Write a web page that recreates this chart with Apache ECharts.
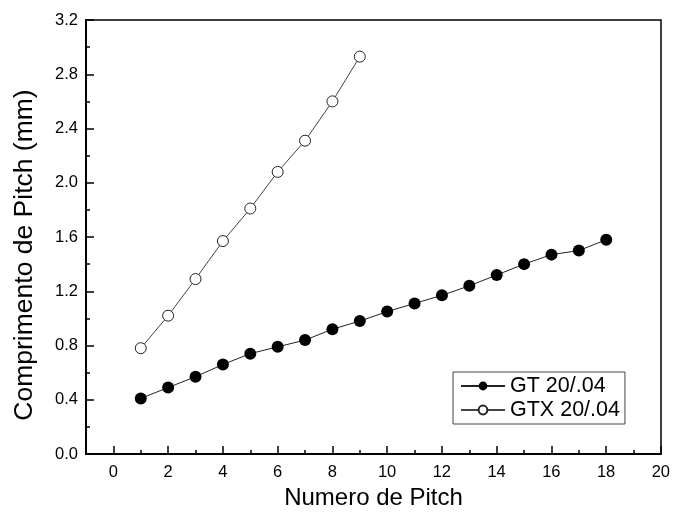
<!DOCTYPE html>
<html>
<head>
<meta charset="utf-8">
<script src="https://cdn.jsdelivr.net/npm/echarts@6/dist/echarts.min.js"></script>
<style>html,body{margin:0;padding:0;background:#fff}#c{width:673px;height:528px}</style>
</head>
<body>
<div id="c"></div>
<script>
const pitchGT = [1,2,3,4,5,6,7,8,9,10,11,12,13,14,15,16,17,18];
const lengthGT = [0.41,0.49,0.57,0.66,0.74,0.79,0.84,0.92,0.98,1.05,1.11,1.17,1.24,1.32,1.40,1.47,1.50,1.58];
const pitchGTX = [1,2,3,4,5,6,7,8,9];
const lengthGTX = [0.78,1.02,1.29,1.57,1.81,2.08,2.31,2.60,2.93];
const nameGT = 'GT 20/.04';
const nameGTX = 'GTX 20/.04';
const xTitle = 'Numero de Pitch';
const yTitle = 'Comprimento de Pitch (mm)';

const FONT = 'Liberation Sans, Arial, sans-serif';
const L = 86, R = 12, T = 20, B = 74, W = 673;
const plotW = W - L - R;
const unit = plotW / 21;

const chart = echarts.init(document.getElementById('c'));
chart.setOption({
  animation: false,
  backgroundColor: '#fff',
  grid: [
    {left: L, right: R, top: T, bottom: B, show: true, borderColor: '#000', borderWidth: 1.5, backgroundColor: 'transparent'},
    {left: L + unit, right: R, top: T, bottom: B, show: false}
  ],
  legend: {
    orient: 'vertical', left: 453, top: 372,
    borderColor: '#444', borderWidth: 1, padding: [3, 5, 3, 7],
    itemWidth: 44, itemHeight: 11, itemGap: 2,
    textStyle: {fontFamily: FONT, fontSize: 21.5, color: '#000'},
    data: [nameGT, nameGTX]
  },
  xAxis: [
    {type: 'value', gridIndex: 0, min: -1, max: 20, interval: 1,
     axisLine: {onZero: false, lineStyle: {color: '#000', width: 2}},
     axisTick: {inside: true, length: 4, lineStyle: {color: '#000', width: 1.5}},
     axisLabel: {show: false}, splitLine: {show: false},
     name: xTitle, nameLocation: 'middle', nameGap: 32,
     nameTextStyle: {fontFamily: FONT, fontSize: 24, color: '#000'}},
    {type: 'value', gridIndex: 1, min: 0, max: 20, interval: 2,
     axisLine: {show: false, onZero: false},
     axisTick: {inside: true, length: 8, lineStyle: {color: '#000', width: 1.5}},
     axisLabel: {fontFamily: FONT, fontSize: 16.5, color: '#000', margin: 10},
     splitLine: {show: false}}
  ],
  yAxis: [
    {type: 'value', gridIndex: 0, min: 0, max: 3.2, interval: 0.4,
     axisLine: {show: true, onZero: false, lineStyle: {color: '#000', width: 2}},
     axisTick: {inside: true, length: 8, lineStyle: {color: '#000', width: 1.5}},
     minorTick: {show: true, splitNumber: 2, length: 4, lineStyle: {color: '#000', width: 1.5}},
     axisLabel: {fontFamily: FONT, fontSize: 16.5, color: '#000', margin: 8, formatter: v => v.toFixed(1)},
     splitLine: {show: false},
     name: yTitle, nameLocation: 'middle', nameGap: 48,
     nameTextStyle: {fontFamily: FONT, fontSize: 26.5, color: '#000', padding: [0, 36, 0, 0]}},
    {type: 'value', gridIndex: 1, min: 0, max: 3.2, show: false, axisLine: {onZero: false}}
  ],
  series: [
    {name: nameGT, type: 'line', xAxisIndex: 0, yAxisIndex: 0,
     data: pitchGT.map((x, i) => [x, lengthGT[i]]),
     symbol: 'circle', symbolSize: 12,
     lineStyle: {color: '#222', width: 1},
     itemStyle: {color: '#000', borderColor: '#000', borderWidth: 0}},
    {name: nameGTX, type: 'line', xAxisIndex: 0, yAxisIndex: 0,
     data: pitchGTX.map((x, i) => [x, lengthGTX[i]]),
     symbol: 'circle', symbolSize: 11,
     lineStyle: {color: '#444', width: 1},
     itemStyle: {color: '#fff', borderColor: '#222', borderWidth: 1}}
  ]
});
</script>
</body>
</html>
